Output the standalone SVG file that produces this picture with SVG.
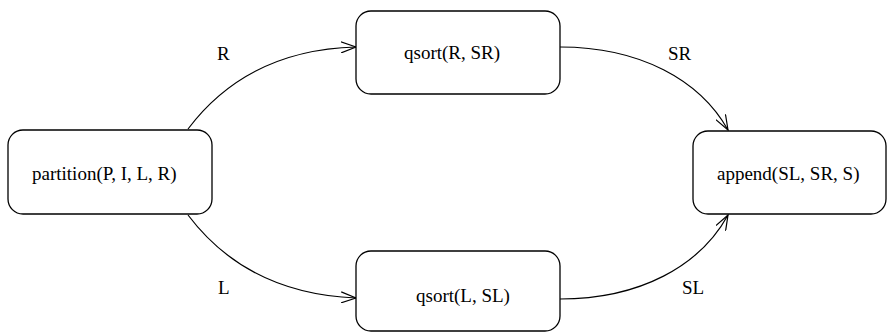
<svg xmlns="http://www.w3.org/2000/svg" width="888" height="332" viewBox="0 0 888 332">
  <style>
    .box { fill: #ffffff; stroke: #000000; stroke-width: 1.3; }
    .lbl { font-family: "Liberation Serif", "Times New Roman", serif; font-size: 19px; fill: #000000; }
    .edge { fill: none; stroke: #000000; stroke-width: 1.2; marker-end: url(#open); }
  </style>
  <defs>
    <marker id="open" viewBox="0 0 16 12" refX="15" refY="6" markerWidth="16" markerHeight="12" markerUnits="userSpaceOnUse" orient="auto">
      <path d="M0,0.5 L15,6 L0,11.5" fill="none" stroke="#000000" stroke-width="1.2"/>
    </marker>
  </defs>
  <rect width="888" height="332" fill="#ffffff"/>

  <g id="connectors">
    <path class="edge" d="M188,129 C225,80 280,49 356,47"/>
    <text class="lbl" x="217" y="60">R</text>
    <path class="edge" d="M188,215 C225,264 280,295 356,298"/>
    <text class="lbl" x="218" y="294">L</text>
    <path class="edge" d="M560,47 C640,47 700,80 728,130"/>
    <text class="lbl" x="668" y="60">SR</text>
    <path class="edge" d="M560,299 C640,299 700,266 728,215"/>
    <text class="lbl" x="682" y="294">SL</text>
  </g>

  <g id="partition">
    <rect class="box" x="8" y="130" width="204" height="84" rx="15" ry="15"/>
    <text class="lbl" x="32" y="180">partition(P, I, L, R)</text>
  </g>
  <g id="qsort-right">
    <rect class="box" x="356" y="11" width="204" height="83" rx="15" ry="15"/>
    <text class="lbl" x="404" y="59">qsort(R, SR)</text>
  </g>
  <g id="qsort-left">
    <rect class="box" x="356" y="251" width="204" height="80" rx="15" ry="15"/>
    <text class="lbl" x="416" y="302">qsort(L, SL)</text>
  </g>
  <g id="append">
    <rect class="box" x="693" y="131" width="193" height="83" rx="15" ry="15"/>
    <text class="lbl" x="717" y="180">append(SL, SR, S)</text>
  </g>
</svg>
